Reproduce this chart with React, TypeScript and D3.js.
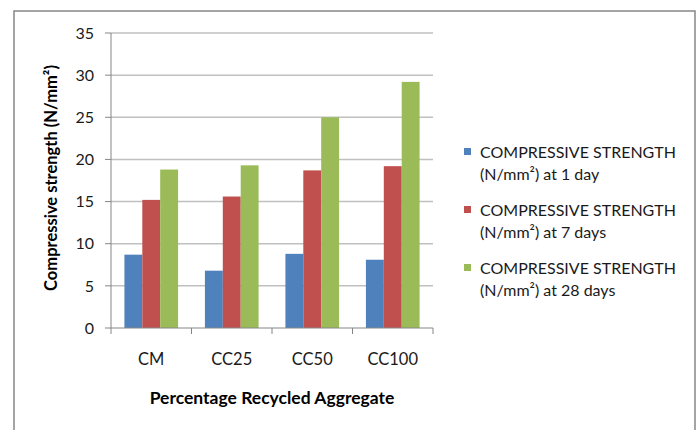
import React from "react";
import * as d3 from "d3";

const categories = ["CM", "CC25", "CC50", "CC100"];
const seriesNames = [
  "COMPRESSIVE STRENGTH|(N/mm²) at 1 day",
  "COMPRESSIVE STRENGTH|(N/mm²) at 7 days",
  "COMPRESSIVE STRENGTH|(N/mm²) at 28 days",
];
const day1 = [8.7, 6.8, 8.8, 8.1];
const day7 = [15.2, 15.6, 18.7, 19.2];
const day28 = [18.8, 19.3, 25.0, 29.2];
const yTicks = [0, 5, 10, 15, 20, 25, 30, 35];
const colors = ["#4F81BD", "#C0504D", "#9BBB59"];
const series = [day1, day7, day28];

const W = 699;
const H = 430;
const plot = { left: 111, right: 433, top: 33, bottom: 328 };
const FONT = "Lato, 'Open Sans', sans-serif";

export default function App() {
  const x = d3
    .scaleBand<string>()
    .domain(categories)
    .range([plot.left, plot.right])
    .paddingInner(0)
    .paddingOuter(0);
  const y = d3.scaleLinear().domain([0, 35]).range([plot.bottom, plot.top]);
  const bw = x.bandwidth();
  const barW = bw / 4.5;
  const gap = (bw - 3 * barW) / 2;

  return (
    <svg
      width={W}
      height={H}
      style={{ position: "absolute", left: 0, top: 0, background: "#fff" }}
      fontFamily={FONT}
    >
      <rect x={0} y={0} width={W} height={H} fill="#fff" />
      <rect
        x={14}
        y={11}
        width={681}
        height={440}
        fill="none"
        stroke="#868686"
        strokeWidth={1.5}
      />
      {yTicks.map((t) => (
        <g key={t}>
          {t > 0 && (
            <line
              x1={plot.left}
              x2={plot.right}
              y1={y(t)}
              y2={y(t)}
              stroke="#c0c0c0"
              strokeWidth={1.5}
            />
          )}
          <line
            x1={plot.left - 6}
            x2={plot.left}
            y1={y(t)}
            y2={y(t)}
            stroke="#868686"
            strokeWidth={1}
          />
          <text
            x={94}
            y={y(t)}
            dy="0.36em"
            textAnchor="end"
            fontSize={16}
            fill="#1a1a1a"
          >
            {t}
          </text>
        </g>
      ))}
      {series.map((vals, si) =>
        vals.map((v, ci) => (
          <rect
            key={`${si}-${ci}`}
            x={(x(categories[ci]) as number) + gap + si * barW}
            y={y(v)}
            width={barW}
            height={y(0) - y(v)}
            fill={colors[si]}
          />
        ))
      )}
      <line
        x1={plot.left}
        x2={plot.left}
        y1={plot.top}
        y2={plot.bottom}
        stroke="#868686"
        strokeWidth={1}
      />
      <line
        x1={plot.left}
        x2={plot.right}
        y1={plot.bottom}
        y2={plot.bottom}
        stroke="#868686"
        strokeWidth={1}
      />
      {[...categories.map((c) => x(c) as number), plot.right].map((px, i) => (
        <line
          key={i}
          x1={px}
          x2={px}
          y1={plot.bottom}
          y2={plot.bottom + 6}
          stroke="#868686"
          strokeWidth={1}
        />
      ))}
      {categories.map((c) => (
        <text
          key={c}
          x={(x(c) as number) + bw / 2}
          y={365}
          textAnchor="middle"
          fontSize={16.5}
          fill="#1a1a1a"
        >
          {c}
        </text>
      ))}
      <text
        x={272}
        y={404}
        textAnchor="middle"
        fontSize={17.5}
        fontWeight="bold"
        fill="#000"
      >
        Percentage Recycled Aggregate
      </text>
      <text
        transform={`translate(57,178) rotate(-90)`}
        textAnchor="middle"
        fontSize={16.5}
        fontWeight="bold"
        fill="#000"
      >
        Compressive strength (N/mm²)
      </text>
      {seriesNames.map((n, i) => {
        const [l1, l2] = n.split("|");
        const by = 158 + i * 58;
        return (
          <g key={n}>
            <rect x={464} y={by - 10} width={7} height={7} fill={colors[i]} />
            <text x={480} y={by} fontSize={16} fill="#1a1a1a">
              {l1}
            </text>
            <text x={480} y={by + 22} fontSize={16} fill="#1a1a1a">
              {l2}
            </text>
          </g>
        );
      })}
    </svg>
  );
}
